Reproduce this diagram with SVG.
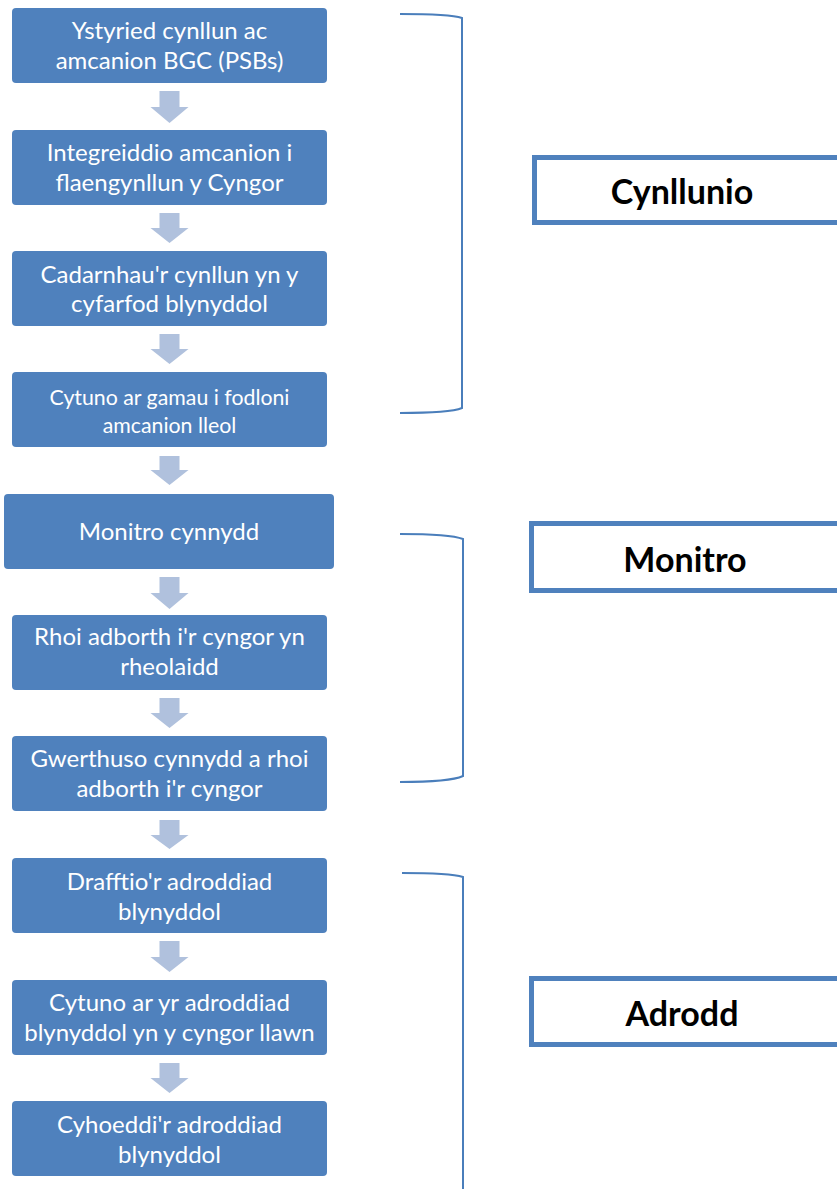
<svg xmlns="http://www.w3.org/2000/svg" width="837" height="1189" viewBox="0 0 837 1189">
<style>
.box{fill:#4F81BD;}
.t{font-family:Lato,"Open Sans","Liberation Sans",sans-serif;font-size:24px;fill:#FFFFFF;text-anchor:middle;}
.ts{font-size:21.3px;}
.arr{fill:#B0C1DD;}
.br{fill:none;stroke:#4A7EBB;stroke-width:2;}
.lb{fill:#FFFFFF;stroke:#4F81BD;stroke-width:5;}
.lt{font-family:Lato,"Open Sans","Liberation Sans",sans-serif;font-weight:bold;font-size:34px;fill:#000000;text-anchor:middle;}
</style>
<rect width="837" height="1189" fill="#FFFFFF"/>
<g id="connectors">
<polygon class="arr" points="159.5,91 179.5,91 179.5,107 188.5,107 169.5,123 150.5,107 159.5,107"/>
<polygon class="arr" points="159.5,213 179.5,213 179.5,228 188.5,228 169.5,243 150.5,228 159.5,228"/>
<polygon class="arr" points="159.5,334 179.5,334 179.5,349 188.5,349 169.5,364 150.5,349 159.5,349"/>
<polygon class="arr" points="159.5,456 179.5,456 179.5,470 188.5,470 169.5,485 150.5,470 159.5,470"/>
<polygon class="arr" points="159.5,577 179.5,577 179.5,593 188.5,593 169.5,609 150.5,593 159.5,593"/>
<polygon class="arr" points="159.5,698 179.5,698 179.5,713 188.5,713 169.5,728 150.5,713 159.5,713"/>
<polygon class="arr" points="159.5,820 179.5,820 179.5,835 188.5,835 169.5,849 150.5,835 159.5,835"/>
<polygon class="arr" points="159.5,941 179.5,941 179.5,957 188.5,957 169.5,972 150.5,957 159.5,957"/>
<polygon class="arr" points="159.5,1063 179.5,1063 179.5,1078 188.5,1078 169.5,1093 150.5,1078 159.5,1078"/>
</g>
<g id="brackets">
<path class="br" d="M400,14 Q450,14 462,18 V408 Q450,413 400,413"/>
<path class="br" d="M400,534 Q450,534 463,539 V776 Q450,782 400,782"/>
<path class="br" d="M402,873 Q450,873 463,877 V1189"/>
</g>
<g id="n1"><rect class="box" x="12" y="8" width="315" height="75" rx="4"/>
<text class="t" x="169.5" y="39">Ystyried cynllun ac</text><text class="t" x="169.5" y="69">amcanion BGC (PSBs)</text></g>
<g id="n2"><rect class="box" x="12" y="130" width="315" height="75" rx="4"/>
<text class="t" x="169.5" y="161">Integreiddio amcanion i</text><text class="t" x="169.5" y="191">flaengynllun y Cyngor</text></g>
<g id="n3"><rect class="box" x="12" y="251" width="315" height="75" rx="4"/>
<text class="t" x="169.5" y="283">Cadarnhau'r cynllun yn y</text><text class="t" x="169.5" y="312">cyfarfod blynyddol</text></g>
<g id="n4"><rect class="box" x="12" y="372" width="315" height="75" rx="4"/>
<text class="t ts" x="169.5" y="405">Cytuno ar gamau i fodloni</text><text class="t ts" x="169.5" y="433">amcanion lleol</text></g>
<g id="n5"><rect class="box" x="4" y="494" width="330" height="75" rx="4"/>
<text class="t" x="169" y="540">Monitro cynnydd</text></g>
<g id="n6"><rect class="box" x="12" y="615" width="315" height="75" rx="4"/>
<text class="t" x="169.5" y="645">Rhoi adborth i'r cyngor yn</text><text class="t" x="169.5" y="675">rheolaidd</text></g>
<g id="n7"><rect class="box" x="12" y="736" width="315" height="75" rx="4"/>
<text class="t" x="169.5" y="767">Gwerthuso cynnydd a rhoi</text><text class="t" x="169.5" y="797">adborth i'r cyngor</text></g>
<g id="n8"><rect class="box" x="12" y="858" width="315" height="75" rx="4"/>
<text class="t" x="169.5" y="890">Drafftio'r adroddiad</text><text class="t" x="169.5" y="920">blynyddol</text></g>
<g id="n9"><rect class="box" x="12" y="980" width="315" height="75" rx="4"/>
<text class="t" x="169.5" y="1011">Cytuno ar yr adroddiad</text><text class="t" x="169.5" y="1041">blynyddol yn y cyngor llawn</text></g>
<g id="n10"><rect class="box" x="12" y="1101" width="315" height="75" rx="4"/>
<text class="t" x="169.5" y="1133">Cyhoeddi'r adroddiad</text><text class="t" x="169.5" y="1163">blynyddol</text></g>
<g id="l1"><rect class="lb" x="534.5" y="157.5" width="320" height="65"/>
<text class="lt" x="682" y="204">Cynllunio</text></g>
<g id="l2"><rect class="lb" x="531.5" y="523.5" width="320" height="67"/>
<text class="lt" x="685" y="572">Monitro</text></g>
<g id="l3"><rect class="lb" x="531.5" y="978.5" width="320" height="66"/>
<text class="lt" x="682" y="1026">Adrodd</text></g>
</svg>
